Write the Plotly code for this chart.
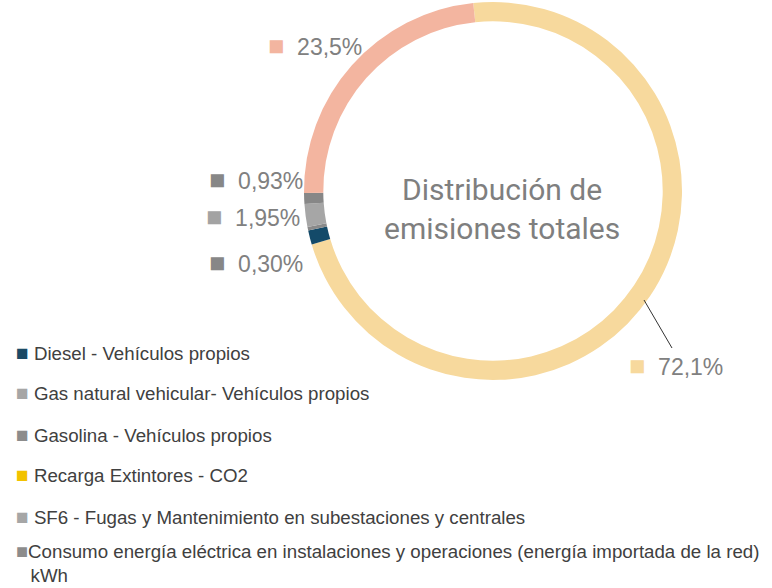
import plotly.graph_objects as go

# slices, clockwise from the top of the ring
slice_names = ["Consumo energía eléctrica", "Diesel - Vehículos propios", "Gasolina - Vehículos propios",
               "Gas natural vehicular- Vehículos propios", "Recarga Extintores - CO2",
               "SF6 - Fugas y Mantenimiento en subestaciones y centrales"]
slice_values = [72.1, 1.22, 0.30, 1.95, 0.93, 23.5]
slice_colors = ["#F7D99D", "#134A69", "#8A8A8A", "#A6A6A6", "#878787", "#F3B5A0"]

# labels written beside the ring
pct_text = ["72,1%", "0,30%", "1,95%", "0,93%", "23,5%"]
pct_colors = ["#F7D99D", "#878787", "#A3A3A3", "#878787", "#F3B5A0"]
pct_pos = [(627, 366), (207, 263), (204, 217), (207, 180), (266, 46)]  # px, left/middle

# legend as drawn in the original (colours differ from the slices)
legend_names = ["Diesel - Vehículos propios",
                "Gas natural vehicular- Vehículos propios",
                "Gasolina - Vehículos propios",
                "Recarga Extintores - CO2",
                "SF6 - Fugas y Mantenimiento en subestaciones y centrales"]
legend_colors = ["#1B4A66", "#A6A6A6", "#8C8C8C", "#F2C200", "#A6A6A6"]
legend_y = [352, 392, 434, 474, 516]
last_name = "Consumo energía eléctrica en instalaciones y operaciones (energía importada de la red)"
last_unit = "kWh"
last_color = "#8C8C8C"

W, H = 772, 588
px = lambda x: x / W
py = lambda y: 1 - y / H
legend_font = dict(family="Liberation Sans, Arial, sans-serif", size=18.7, color="#404040")

fig = go.Figure()
fig.add_trace(go.Pie(
    labels=slice_names, values=slice_values, hole=0.898, sort=False,
    direction="clockwise", rotation=-6, textinfo="none", showlegend=False,
    marker=dict(colors=slice_colors, line=dict(width=0)),
    domain=dict(x=[px(304), px(682)], y=[py(380), py(2)]),
))

annotations = []
for t, c, (x, y) in zip(pct_text, pct_colors, pct_pos):
    annotations.append(dict(
        x=px(x), y=py(y), xref="paper", yref="paper", xanchor="left", yanchor="middle",
        showarrow=False,
        text=f"<span style='color:{c};font-size:27px'>\u25A0</span>\u00a0\u00a0{t}",
        font=dict(family="Liberation Sans, Arial, sans-serif", size=23, color="#808080"),
    ))

# legend rows
for name, c, y in zip(legend_names, legend_colors, legend_y):
    annotations.append(dict(
        x=px(14), y=py(y), xref="paper", yref="paper", xanchor="left", yanchor="middle",
        showarrow=False,
        text=f"<span style='color:{c};font-size:21px'>\u25A0</span> {name}",
        font=legend_font,
    ))
annotations.append(dict(
    x=px(14), y=0, xref="paper", yref="paper", xanchor="left", yanchor="bottom",
    showarrow=False, align="left",
    text=f"<span style='color:{last_color};font-size:20px'>\u25A0</span>{last_name}<br>\u2002\u00a0{last_unit}",
    font=legend_font,
))

annotations.append(dict(
    x=px(502), y=py(209), xref="paper", yref="paper", xanchor="center", yanchor="middle",
    showarrow=False, text="Distribución de<br>emisiones totales",
    font=dict(family="Roboto, sans-serif", size=30, color="#7F7F7F"),
))

fig.update_layout(
    width=W, height=H,
    margin=dict(l=0, r=0, t=0, b=0),
    paper_bgcolor="white", plot_bgcolor="white",
    showlegend=False,
    annotations=annotations,
    shapes=[dict(type="line", xref="paper", yref="paper",
                 x0=px(644), y0=py(300), x1=px(672), y1=py(348),
                 line=dict(color="#333333", width=1))],
)

# the default page keeps an 8px body margin; drop it so the figure sits at 0,0
fig.write_html("out.html", config={"displayModeBar": False},
               post_script="document.body.style.margin='0';")
